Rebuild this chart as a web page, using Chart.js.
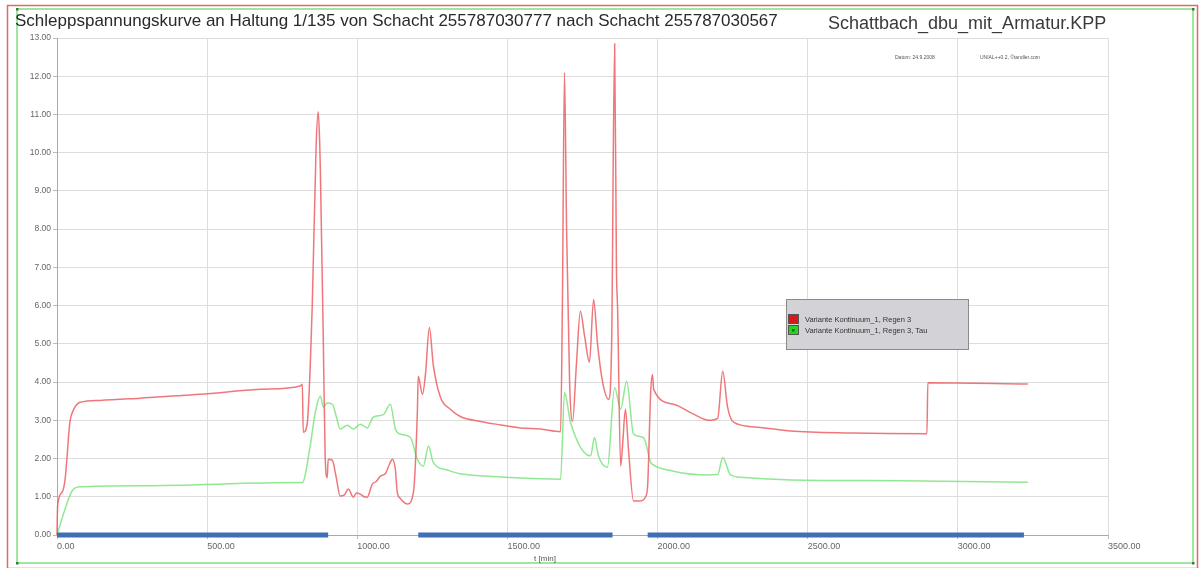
<!DOCTYPE html>
<html>
<head>
<meta charset="utf-8">
<script src="https://cdn.jsdelivr.net/npm/chart.js@4.4.1/dist/chart.umd.min.js"></script>
<style>
html,body{margin:0;padding:0;background:#fff;}
#wrap{position:relative;width:1200px;height:568px;}
</style>
</head>
<body>
<div id="wrap"><canvas id="c" width="1200" height="568"></canvas></div>
<script>
// ---- Data ----
const titleText = "Schleppspannungskurve an Haltung 1/135 von Schacht 255787030777 nach Schacht 255787030567";
const fileText = "Schattbach_dbu_mit_Armatur.KPP";
const infoTexts = ["Datum: 24.9.2008", "UNIAL++0.2, \u00A9tandler.com"];
const xAxisTitle = "t [min]";
const seriesNames = ["Variante Kontinuum_1, Regen 3", "Variante Kontinuum_1, Regen 3, Tau"];

const tRed = [0,2,17,27,43,53,77,143,277,477,677,810,817,820,833,850,863,870,875,877,887,893,900,903,917,930,943,957,970,987,997,1010,1023,1033,1050,1063,1077,1093,1107,1117,1127,1133,1143,1167,1187,1200,1203,1217,1227,1240,1253,1277,1310,1343,1410,1477,1543,1610,1677,1683,1690,1697,1707,1717,1730,1743,1757,1773,1787,1800,1817,1837,1847,1857,1863,1867,1877,1883,1893,1903,1920,1943,1960,1967,1977,1983,1987,2053,2120,2170,2200,2217,2233,2253,2333,2443,2643,2897,2900,3233];
const vRed = [0,0.76,1.12,1.46,2.95,3.24,3.47,3.52,3.58,3.68,3.81,3.90,3.94,2.69,2.90,6.0,10.2,11.07,10.2,9.56,5.0,2.06,1.50,1.98,1.95,1.50,1.02,1.05,1.20,0.99,1.10,1.07,1.00,0.99,1.33,1.40,1.54,1.60,1.85,1.98,1.70,1.12,0.96,0.81,1.12,3.20,4.15,3.68,4.20,5.43,4.45,3.60,3.29,3.10,2.97,2.88,2.80,2.77,2.70,6.0,12.1,8.0,4.0,2.98,4.5,5.85,5.2,4.52,6.16,5.0,4.0,3.55,5.0,12.85,7.0,5.9,1.80,2.30,3.29,2.25,0.89,0.89,1.00,1.30,3.73,4.20,3.81,3.42,3.16,3.00,3.05,4.28,3.35,2.95,2.82,2.72,2.67,2.65,3.98,3.95];

const tGreen = [0,27,50,77,277,810,817,843,860,877,887,900,917,930,943,967,987,1010,1033,1053,1087,1110,1127,1143,1177,1200,1220,1237,1253,1300,1343,1477,1610,1677,1690,1710,1777,1790,1803,1833,1857,1877,1897,1920,1953,1977,1983,2053,2167,2200,2217,2243,2277,2443,2810,3233];
const vGreen = [0,0.68,1.15,1.26,1.29,1.37,1.37,2.32,3.20,3.63,3.35,3.45,3.42,3.10,2.77,2.87,2.77,2.90,2.80,3.08,3.15,3.42,2.77,2.64,2.55,1.98,1.80,2.33,1.90,1.70,1.60,1.52,1.47,1.46,3.73,2.95,2.07,2.55,2.07,1.77,3.86,3.29,4.02,2.64,2.55,1.90,1.85,1.67,1.57,1.58,2.03,1.57,1.51,1.44,1.42,1.38];

const barStart = [0, 1203, 1967];
const barEnd = [903, 1850, 3220];

const xMin = 0, xMax = 3500, xStep = 500;
const yMin = 0, yMax = 13, yStep = 1;

// ---- Build datasets ----
const toPts = (ts, vs) => ts.map((t, i) => ({x: t, y: vs[i]}));
const barPts = [];
barStart.forEach((s, i) => {
  barPts.push({x: s, y: 0}, {x: barEnd[i], y: 0});
  if (i < barStart.length - 1) barPts.push({x: (barEnd[i] + barStart[i+1]) / 2, y: null});
});

const decor = {
  id: 'decor',
  beforeDraw(chart) {
    const ctx = chart.ctx;
    ctx.save();
    ctx.fillStyle = '#fff';
    ctx.fillRect(0, 0, chart.width, chart.height);
    ctx.restore();
  },
  afterDraw(chart) {
    const ctx = chart.ctx;
    ctx.save();
    // frames
    ctx.lineWidth = 1.5;
    ctx.strokeStyle = '#e06a6a';
    ctx.strokeRect(7.5, 5.5, 1190, 563);
    ctx.strokeStyle = '#9ee89e';
    ctx.lineWidth = 2;
    ctx.strokeRect(17, 9, 1176, 554);
    ctx.fillStyle = '#3a7a3a';
    [[17,9],[17,563],[1193,9],[1193,563]].forEach(p => ctx.fillRect(p[0]-1, p[1]-1, 2.5, 2.5));

    // titles
    ctx.fillStyle = '#2a2a2a';
    ctx.textBaseline = 'alphabetic';
    ctx.textAlign = 'left';
    ctx.font = '17px "Liberation Sans", Arial, sans-serif';
    ctx.fillText(titleText, 15, 26);
    ctx.fillStyle = '#3a3a3a';
    ctx.font = '18px "Liberation Sans", Arial, sans-serif';
    ctx.fillText(fileText, 828, 29);

    // info texts
    ctx.fillStyle = '#555';
    ctx.font = '5px "Liberation Sans", Arial, sans-serif';
    ctx.textAlign = 'left';
    ctx.fillText(infoTexts[0], 895, 59);
    ctx.fillText(infoTexts[1], 980, 59);

    // axis title
    ctx.fillStyle = '#555';
    ctx.font = '8px "Liberation Sans", Arial, sans-serif';
    ctx.textAlign = 'center';
    ctx.fillText(xAxisTitle, 545, 561);

    // legend box
    ctx.fillStyle = '#d3d2d7';
    ctx.fillRect(786, 299, 183, 51);
    ctx.strokeStyle = '#8a8a8a';
    ctx.lineWidth = 1;
    ctx.strokeRect(786.5, 299.5, 182, 50);
    const cols = ['#d8191c', '#22d622'];
    const ys = [314, 325];
    cols.forEach((c, i) => {
      ctx.fillStyle = c;
      ctx.fillRect(788, ys[i], 11, 10);
      ctx.strokeStyle = '#555';
      ctx.strokeRect(788.5, ys[i] + 0.5, 10, 9);
    });
    ctx.fillStyle = '#1a6a1a';
    ctx.fillRect(792, ys[1] + 4, 2.5, 2.5);
    ctx.fillStyle = '#333';
    ctx.textAlign = 'left';
    ctx.font = '7.5px "Liberation Sans", Arial, sans-serif';
    ctx.fillText(seriesNames[0], 805, 322);
    ctx.fillText(seriesNames[1], 805, 333);
    ctx.restore();
  }
};

new Chart(document.getElementById('c'), {
  type: 'scatter',
  data: {
    datasets: [
      {label: seriesNames[0], data: toPts(tRed, vRed), showLine: true, borderColor: 'rgba(236,95,100,0.85)', borderWidth: 1.5, pointRadius: 0, cubicInterpolationMode: 'monotone', clip: false, order: 2},
      {label: seriesNames[1], data: toPts(tGreen, vGreen), showLine: true, borderColor: 'rgba(125,228,125,0.85)', borderWidth: 1.5, pointRadius: 0, cubicInterpolationMode: 'monotone', clip: false, order: 3},
      {label: 'bar', data: barPts, showLine: true, spanGaps: false, borderColor: '#3f6fb5', borderWidth: 5, pointRadius: 0, clip: false, order: 1}
    ]
  },
  options: {
    responsive: false,
    animation: false,
    devicePixelRatio: 1,
    layout: {padding: {top: 38, right: 92, bottom: 0, left: 0}},
    plugins: {legend: {display: false}, tooltip: {enabled: false}, title: {display: false}},
    scales: {
      x: {
        type: 'linear', min: xMin, max: xMax,
        afterFit: s => { s.height = 33; },
        ticks: {stepSize: xStep, align: 'start', padding: 2, color: '#666',
          font: {family: '"Liberation Sans", Arial, sans-serif', size: 9},
          callback: v => Number(v).toFixed(2)},
        grid: {color: '#dddddd', tickLength: 4, tickColor: '#bbbbbb'},
        border: {color: '#aaaaaa'}
      },
      y: {
        min: yMin, max: yMax,
        afterFit: s => { s.width = 57; },
        ticks: {stepSize: yStep, padding: 2, color: '#666',
          font: {family: '"Liberation Sans", Arial, sans-serif', size: 8.5},
          callback: v => Number(v).toFixed(2)},
        grid: {color: '#dddddd', tickLength: 4, tickColor: '#bbbbbb'},
        border: {color: '#aaaaaa'}
      }
    }
  },
  plugins: [decor]
});
</script>
</body>
</html>
